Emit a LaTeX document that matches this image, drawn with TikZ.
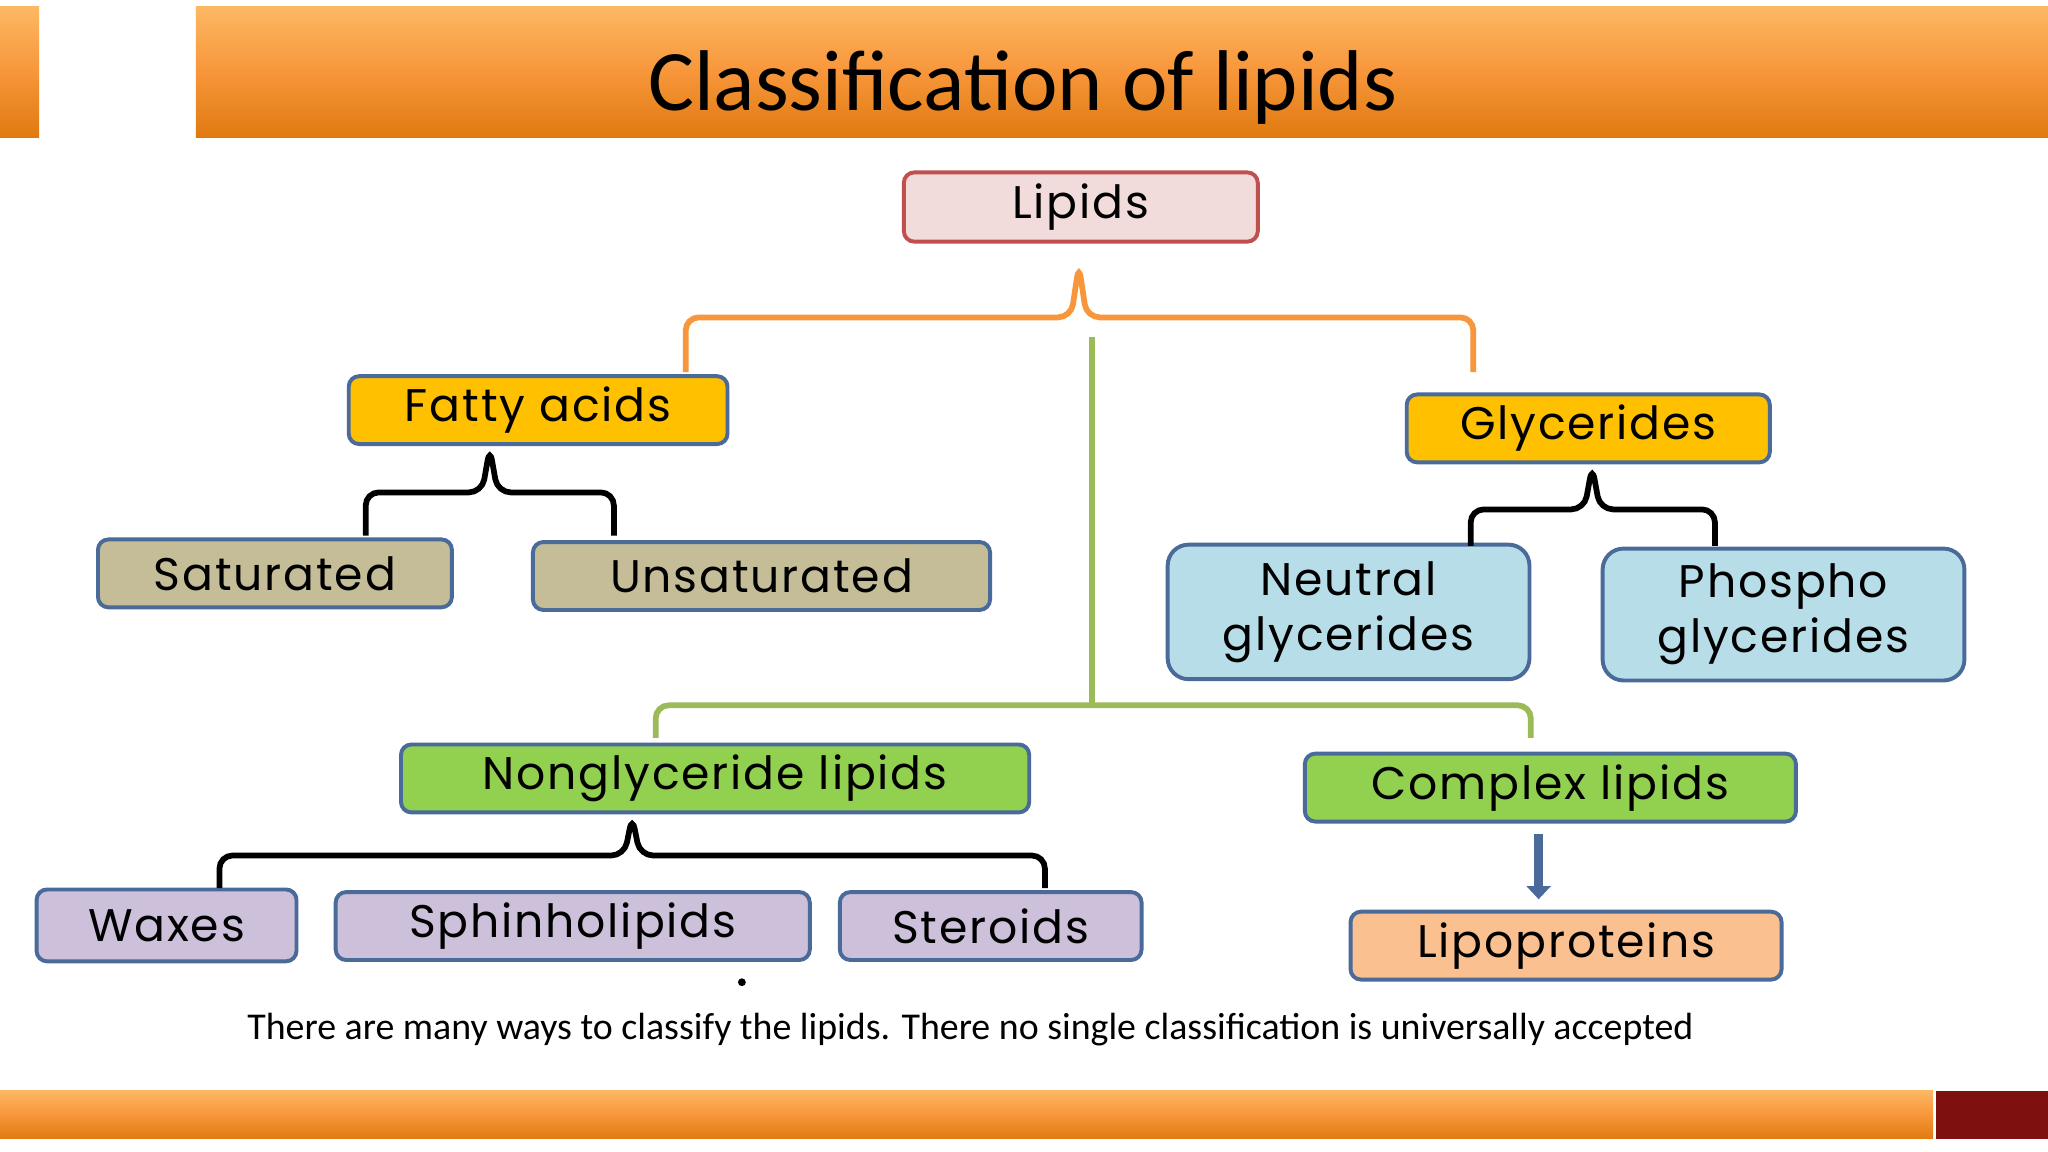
\documentclass[tikz,border=0pt]{standalone}
\usepackage{fontspec}
\setmainfont{Carlito}
\newfontfamily\boxfont[LetterSpace=4]{Poppins}
\usetikzlibrary{arrows.meta,calc}
\definecolor{barorange}{HTML}{F7963A}
\definecolor{bartop}{HTML}{FDB863}
\definecolor{barbottom}{HTML}{E07A10}
\definecolor{darkred}{HTML}{7F1010}
\definecolor{pinkfill}{HTML}{F2DCDB}
\definecolor{redline}{HTML}{C0504D}
\definecolor{gold}{HTML}{FFC000}
\definecolor{boxblue}{HTML}{4A6A9A}
\definecolor{tan}{HTML}{C4BD97}
\definecolor{lightblue}{HTML}{B7DEE8}
\definecolor{leaf}{HTML}{92D050}
\definecolor{lavender}{HTML}{CCC0DA}
\definecolor{peach}{HTML}{FAC090}
\definecolor{bracegreen}{HTML}{9BBB59}
\begin{document}
\begin{tikzpicture}[x=0.5pt,y=-0.5pt]

  \tikzstyle{lipnode}=[draw=boxblue,line width=1.5pt,rounded corners=4pt,inner sep=0pt,font=\boxfont\fontsize{17.5}{19}\selectfont]
  \tikzstyle{bracket}=[line width=2.2pt,rounded corners=5pt]
  \tikzstyle{bar}=[top color=bartop,bottom color=barbottom,middle color=barorange]

  \path[use as bounding box,fill=white] (0,0) rectangle (1568,882);
  % bars
  \shade[bar] (0,5) rectangle (30,105);
  \shade[bar] (150,5) rectangle (1568,105);
  \shade[bar] (0,835) rectangle (1480,872);
  \fill[darkred] (1482,835) rectangle (1568,872);
  \node[font=\fontsize{33}{36}\selectfont] (title) at (783,67) {Classification of lipids};

  \node[lipnode,draw=redline,fill=pinkfill,minimum width=271*0.5pt,minimum height=53*0.5pt] (lipids) at (827.5,158.5) {Lipids};
  \node[lipnode,fill=gold,minimum width=290*0.5pt,minimum height=52*0.5pt] (fatty) at (412,314) {Fatty acids};
  \node[lipnode,fill=gold,minimum width=278*0.5pt,minimum height=52*0.5pt] (glyc) at (1216,328) {Glycerides};
  \node[lipnode,fill=tan,minimum width=271*0.5pt,minimum height=52*0.5pt] (sat) at (210.5,439) {Saturated};
  \node[lipnode,fill=tan,minimum width=350*0.5pt,minimum height=52*0.5pt] (unsat) at (583,441) {Unsaturated};
  \node[lipnode,fill=lightblue,minimum width=277*0.5pt,minimum height=103*0.5pt,align=center,rounded corners=8pt] (neutral) at (1032.5,468.5) {Neutral\\[2pt]glycerides};
  \node[lipnode,fill=lightblue,minimum width=277*0.5pt,minimum height=101*0.5pt,align=center,rounded corners=8pt] (phospho) at (1365.5,470.5) {Phospho\\[2pt]glycerides};
  \node[lipnode,fill=leaf,minimum width=481*0.5pt,minimum height=52*0.5pt] (nongly) at (547.5,596) {Nonglyceride lipids};
  \node[lipnode,fill=leaf,minimum width=376*0.5pt,minimum height=52*0.5pt] (complex) at (1187,603) {Complex lipids};
  \node[lipnode,fill=lavender,minimum width=199*0.5pt,minimum height=55*0.5pt] (waxes) at (127.5,708.5) {Waxes};
  \node[lipnode,fill=lavender,minimum width=363*0.5pt,minimum height=52*0.5pt] (sphin) at (438.5,709) {Sphinholipids};
  \node[lipnode,fill=lavender,minimum width=231*0.5pt,minimum height=52*0.5pt] (steroids) at (758.5,709) {Steroids};
  \node[lipnode,fill=peach,minimum width=330*0.5pt,minimum height=52*0.5pt] (lipo) at (1199,724) {Lipoproteins};
  \node[font=\fontsize{14.5}{16}\selectfont] (note) at (743,788) {There are many ways to classify the lipids. There no single classification is universally accepted};
  \fill (568,752) circle (1.5pt);

  % brackets
  \draw[bracket,barorange] (525,285) -- (525,243) -- (820,243) -- (826,203) -- (832,243) -- (1128,243) -- (1128,285);
  \draw[bracket,bracegreen] (836,258) -- (836,540);
  \draw[bracket,bracegreen] (502,565) -- (502,540) -- (1172,540) -- (1172,565);
  \draw[bracket,black] (280,410) -- (280,377) -- (369,377) -- (375,343) -- (381,377) -- (470,377) -- (470,410);
  \draw[bracket,black] (1126,418) -- (1126,390) -- (1213,390) -- (1219,357) -- (1225,390) -- (1313,390) -- (1313,418);
  \draw[bracket,black] (168,680) -- (168,655) -- (478,655) -- (484,625) -- (490,655) -- (800,655) -- (800,680);
  \draw[-{Triangle[width=9pt,length=5pt]},line width=3.5pt,boxblue] (complex.south -| lipo) ++(-21,8) coordinate (a) -- ($(a)+(0,50)$);
\end{tikzpicture}
\end{document}
